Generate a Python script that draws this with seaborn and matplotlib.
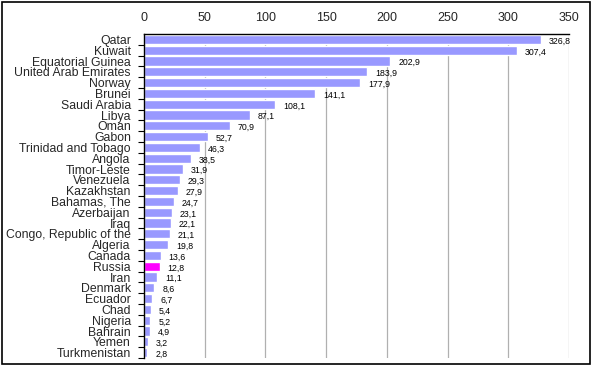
import matplotlib
matplotlib.use('Agg')
import matplotlib.pyplot as plt
import seaborn as sns
import pandas as pd
from matplotlib.patches import Rectangle

countries = ['Qatar', 'Kuwait', 'Equatorial Guinea', 'United Arab Emirates', 'Norway',
             'Brunei', 'Saudi Arabia', 'Libya', 'Oman', 'Gabon', 'Trinidad and Tobago',
             'Angola', 'Timor-Leste', 'Venezuela', 'Kazakhstan', 'Bahamas, The',
             'Azerbaijan', 'Iraq', 'Congo, Republic of the', 'Algeria', 'Canada',
             'Russia', 'Iran', 'Denmark', 'Ecuador', 'Chad', 'Nigeria', 'Bahrain',
             'Yemen', 'Turkmenistan']
values = [326.8, 307.4, 202.9, 183.9, 177.9, 141.1, 108.1, 87.1, 70.9, 52.7, 46.3,
          38.5, 31.9, 29.3, 27.9, 24.7, 23.1, 22.1, 21.1, 19.8, 13.6, 12.8, 11.1,
          8.6, 6.7, 5.4, 5.2, 4.9, 3.2, 2.8]
highlight = 'Russia'
x_ticks = [0, 50, 100, 150, 200, 250, 300, 350]

df = pd.DataFrame({'country': countries, 'value': values})
palette = {c: ('#FF00FF' if c == highlight else '#9999FF') for c in countries}

sns.set_style('white')
plt.rcParams['font.family'] = ['Liberation Sans', 'DejaVu Sans']

fig = plt.figure(figsize=(5.92, 3.67), dpi=100)
ax = fig.add_axes([144 / 592, 1 - 358 / 367, 425 / 592, (358 - 34) / 367])

sns.barplot(data=df, x='value', y='country', hue='country', palette=palette,
            legend=False, width=0.85, saturation=1, ax=ax)

ax.set_xlim(0, 350)
ax.set_ylim(len(countries) - 0.5, -0.5)
ax.set_xticks(x_ticks)
ax.xaxis.tick_top()
ax.xaxis.set_label_position('top')
ax.tick_params(axis='x', length=0, labelsize=9, pad=7)
ax.set_yticks(range(len(countries)))
ax.set_yticks([i + 0.5 for i in range(len(countries))], minor=True)
ax.tick_params(axis='y', which='minor', left=True, length=4, width=0.8, color='black')
ax.tick_params(axis='y', which='major', length=0, labelsize=8.8, pad=9.5)
ax.set_xlabel('')
ax.set_ylabel('')
ax.grid(axis='x', color='#b0b0b0', linewidth=0.9)
ax.set_axisbelow(True)
for side in ['right', 'bottom']:
    ax.spines[side].set_visible(False)
for side in ['top', 'left']:
    ax.spines[side].set_color('black')
    ax.spines[side].set_linewidth(1.0)

for i, v in enumerate(values):
    ax.text(v + 6.5, i + 0.15, f'{v:.1f}'.replace('.', ','), va='center', ha='left',
            fontsize=6.3, color='black')

fig.patches.append(Rectangle((2 / 592, 3 / 367), 588 / 592, 362 / 367,
                             transform=fig.transFigure, fill=False,
                             edgecolor='black', linewidth=1.2))

fig.savefig('out.png', dpi=100)
plt.close(fig)
